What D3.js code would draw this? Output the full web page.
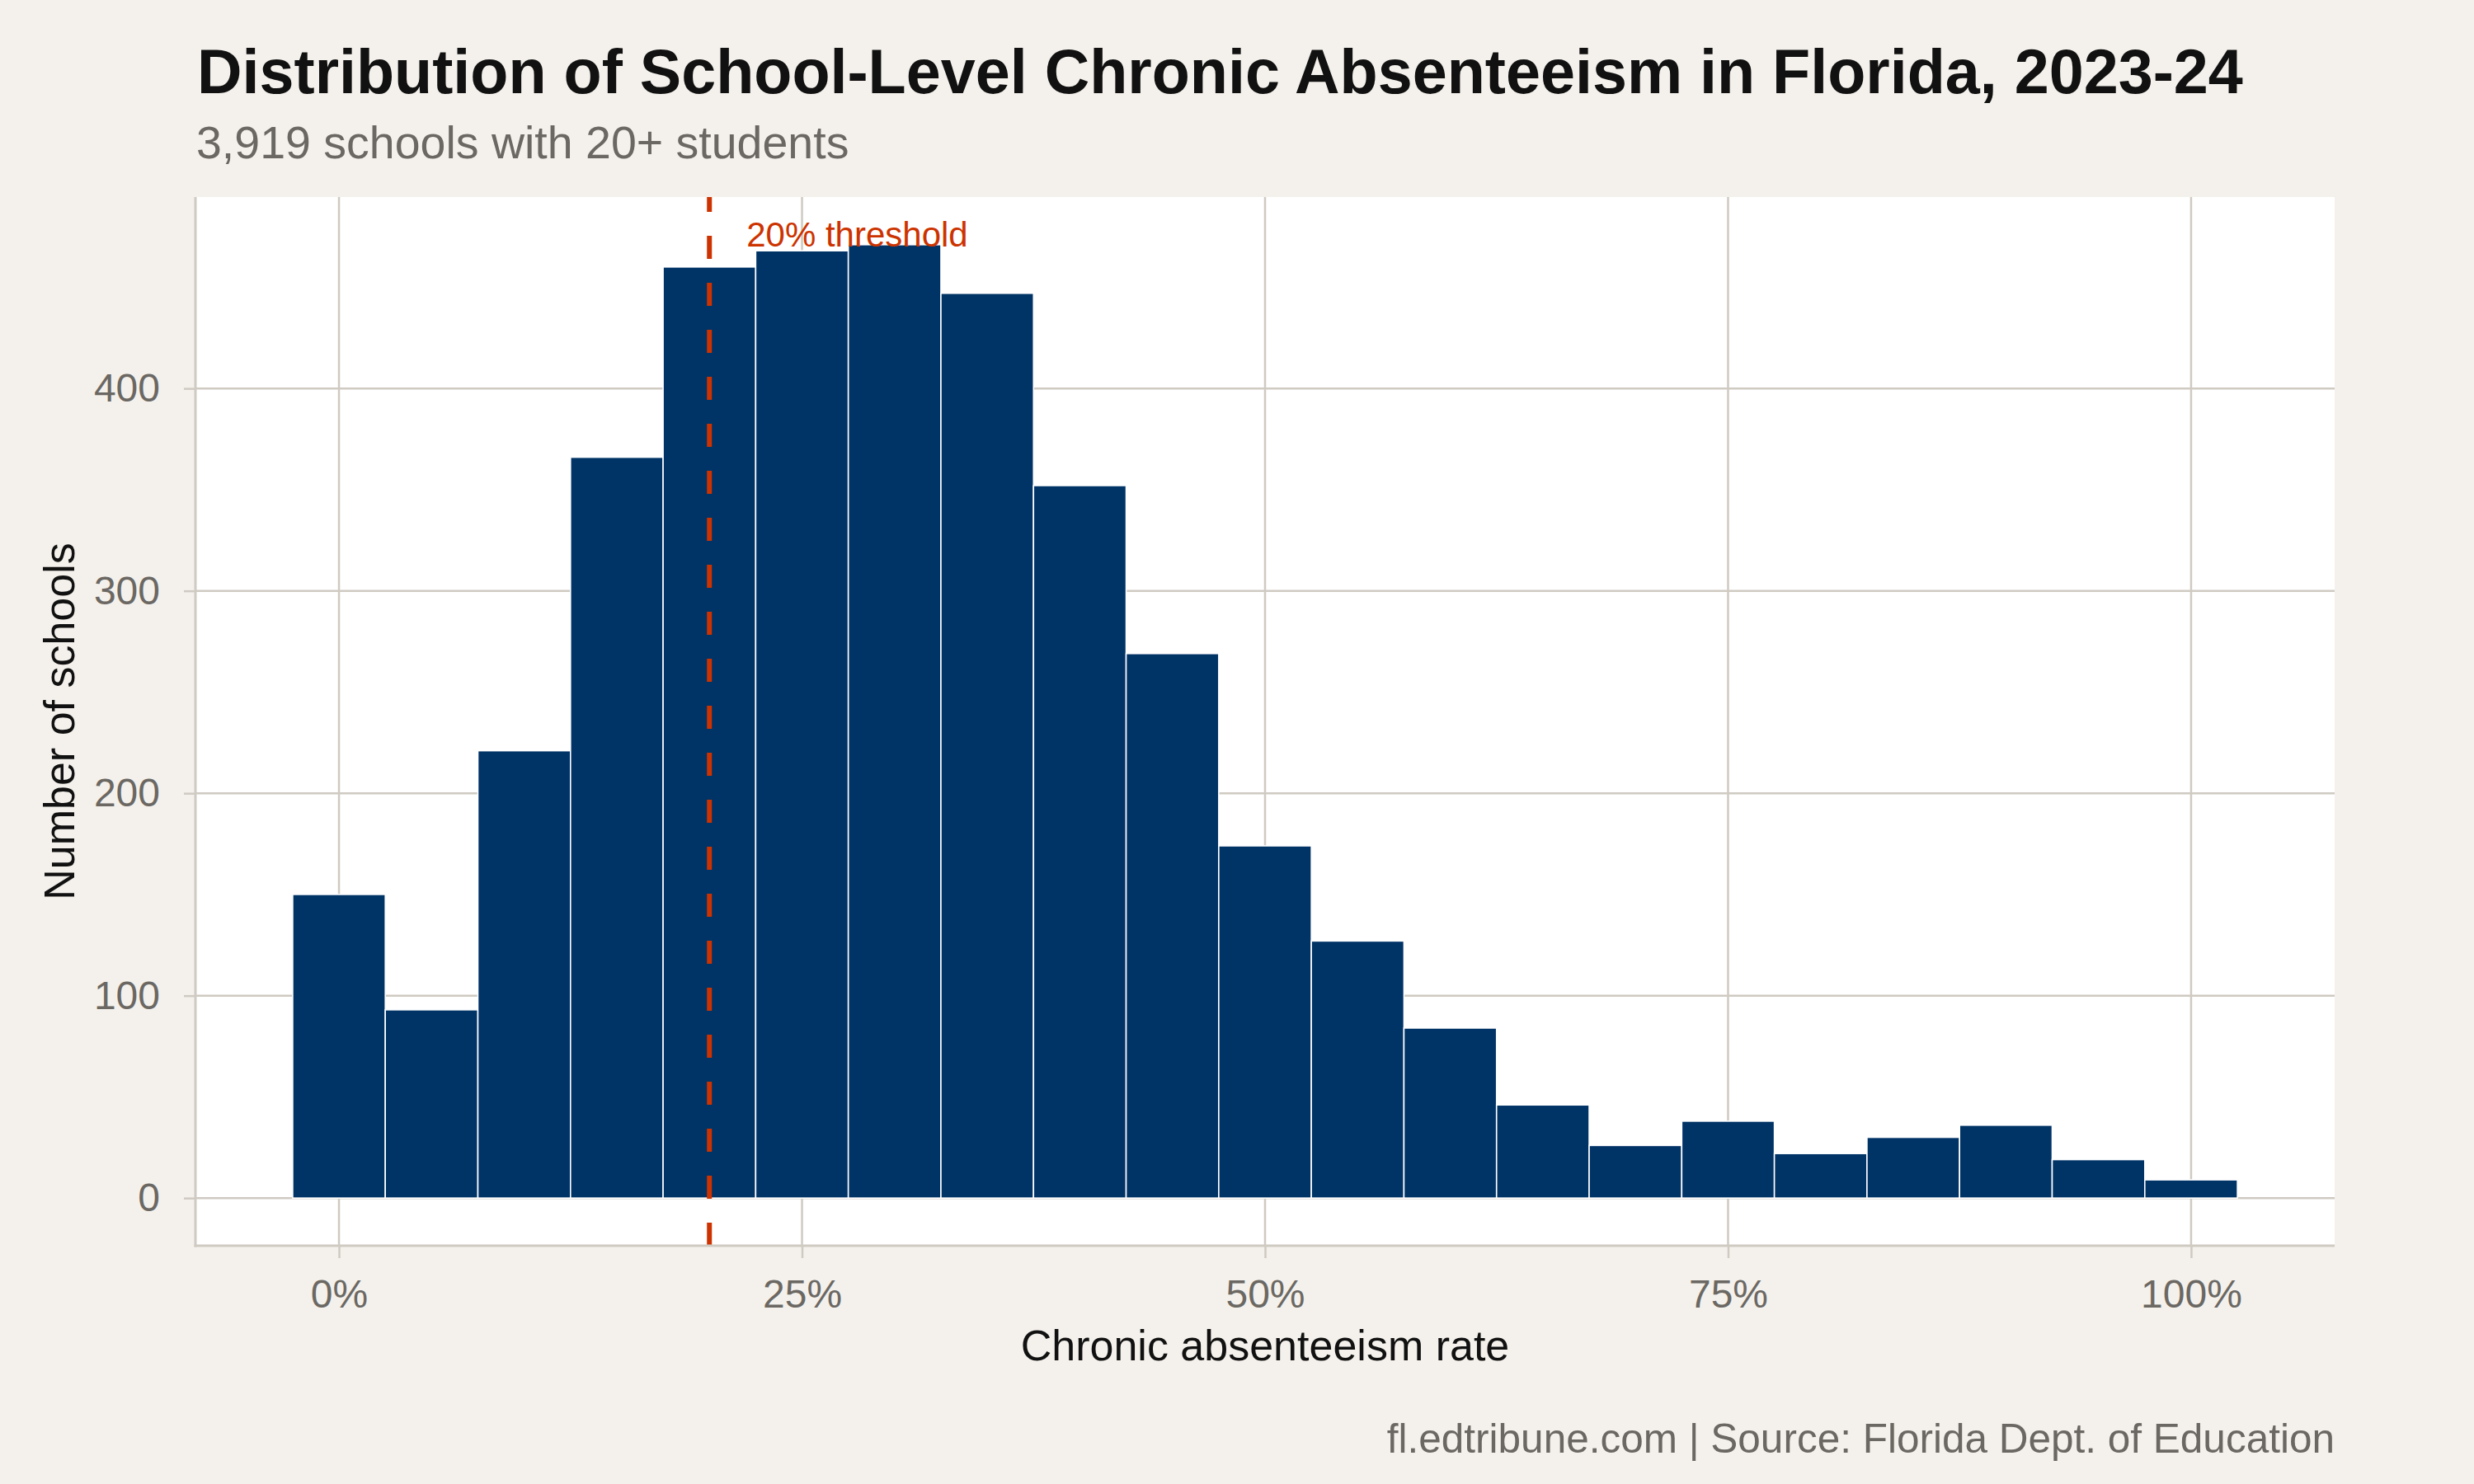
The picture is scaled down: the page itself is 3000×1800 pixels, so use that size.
<!DOCTYPE html>
<html>
<head>
<meta charset="utf-8">
<script src="https://cdn.jsdelivr.net/npm/d3@7"></script>
<style>
  html, body { margin: 0; padding: 0; background: #f4f1ec; }
  svg { display: block; }
  text { font-family: "Liberation Sans", Arial, Helvetica, sans-serif; }
</style>
</head>
<body>
<svg id="chart" width="3000" height="1800"></svg>
<script>
// ---- Data ----
const binCenters = [0, 5, 10, 15, 20, 25, 30, 35, 40, 45, 50, 55, 60, 65, 70, 75, 80, 85, 90, 95, 100];
const schoolCounts = [150, 93, 221, 366, 460, 468, 471, 447, 352, 269, 174, 127, 84, 46, 26, 38, 22, 30, 36, 19, 9];
const binWidth = 5;
const xTickValues = [0, 25, 50, 75, 100];
const yTickValues = [0, 100, 200, 300, 400];
const thresholdValue = 20;

const titleText = "Distribution of School-Level Chronic Absenteeism in Florida, 2023-24";
const subtitleText = "3,919 schools with 20+ students";
const xTitle = "Chronic absenteeism rate";
const yTitle = "Number of schools";
const captionText = "fl.edtribune.com | Source: Florida Dept. of Education";
const thresholdLabel = "20% threshold";

// ---- Layout ----
const panel = { left: 237, right: 2831, top: 239, bottom: 1511 };
const colors = {
  bg: "#f4f1ec", panel: "#ffffff", grid: "#cfcac2", bar: "#003366",
  threshold: "#cc3300", title: "#111111", subtitle: "#6b6863", tick: "#6b6863", axisTitle: "#111111"
};

const svg = d3.select("#chart");
svg.append("rect").attr("width", 3000).attr("height", 1800).attr("fill", colors.bg);

// scales with ggplot-like 5% expansion
const xMin = d3.min(binCenters) - binWidth / 2, xMax = d3.max(binCenters) + binWidth / 2;
const xPad = (xMax - xMin) * 0.05;
const x = d3.scaleLinear().domain([xMin - xPad, xMax + xPad]).range([panel.left, panel.right]);
const yMaxV = d3.max(schoolCounts);
const yPad = yMaxV * 0.05;
const y = d3.scaleLinear().domain([-yPad, yMaxV + yPad]).range([panel.bottom, panel.top]);

// panel
svg.append("rect")
  .attr("x", panel.left).attr("y", panel.top)
  .attr("width", panel.right - panel.left).attr("height", panel.bottom - panel.top)
  .attr("fill", colors.panel);

// gridlines
const grid = svg.append("g");
grid.selectAll("line.gx").data(xTickValues).join("line")
  .attr("x1", d => x(d)).attr("x2", d => x(d))
  .attr("y1", panel.top).attr("y2", panel.bottom)
  .attr("stroke", colors.grid).attr("stroke-width", 2.5);
grid.selectAll("line.gy").data(yTickValues).join("line")
  .attr("x1", panel.left).attr("x2", panel.right)
  .attr("y1", d => y(d)).attr("y2", d => y(d))
  .attr("stroke", colors.grid).attr("stroke-width", 2.5);

// bars
const bars = binCenters.map((c, i) => ({ c, v: schoolCounts[i] }));
svg.append("g").selectAll("rect").data(bars).join("rect")
  .attr("x", d => x(d.c - binWidth / 2))
  .attr("width", d => x(d.c + binWidth / 2) - x(d.c - binWidth / 2))
  .attr("y", d => y(d.v))
  .attr("height", d => y(0) - y(d.v))
  .attr("fill", colors.bar)
  .attr("stroke", "#ffffff").attr("stroke-width", 1.6);

// threshold line
svg.append("line")
  .attr("x1", x(thresholdValue)).attr("x2", x(thresholdValue))
  .attr("y1", panel.bottom).attr("y2", panel.top)
  .attr("stroke", colors.threshold).attr("stroke-width", 6)
  .attr("stroke-dasharray", "28,29");
svg.append("text")
  .attr("x", x(thresholdValue) + 45).attr("y", 299)
  .attr("fill", colors.threshold).attr("font-size", 42)
  .text(thresholdLabel);

// axes
const xAxis = d3.axisBottom(x).tickValues(xTickValues).tickFormat(d => d + "%").tickSize(15).tickPadding(26);
const gx = svg.append("g").attr("transform", `translate(0,${panel.bottom})`).call(xAxis);
const yAxis = d3.axisLeft(y).tickValues(yTickValues).tickFormat(d3.format("d")).tickSize(14).tickPadding(29);
const gy = svg.append("g").attr("transform", `translate(${panel.left},0)`).call(yAxis);
[gx, gy].forEach(g => {
  g.select(".domain").remove();
  g.selectAll(".tick line").attr("stroke", colors.grid).attr("stroke-width", 2.5);
  g.selectAll(".tick text").attr("fill", colors.tick).attr("font-size", 48)
    .attr("font-family", '"Liberation Sans", Arial, Helvetica, sans-serif');
});
gx.selectAll(".tick text").attr("dy", "0.71em");
// axis lines (left & bottom)
svg.append("line").attr("x1", panel.left).attr("x2", panel.left)
  .attr("y1", panel.top).attr("y2", panel.bottom + 1.5)
  .attr("stroke", colors.grid).attr("stroke-width", 3);
svg.append("line").attr("x1", panel.left - 1.5).attr("x2", panel.right)
  .attr("y1", panel.bottom).attr("y2", panel.bottom)
  .attr("stroke", colors.grid).attr("stroke-width", 3);

// titles
svg.append("text").attr("x", 239).attr("y", 113)
  .attr("font-size", 75.5).attr("font-weight", "bold").attr("fill", colors.title)
  .text(titleText);
svg.append("text").attr("x", 238).attr("y", 192)
  .attr("font-size", 55.5).attr("fill", colors.subtitle)
  .text(subtitleText);
svg.append("text").attr("x", (panel.left + panel.right) / 2).attr("y", 1650)
  .attr("text-anchor", "middle").attr("font-size", 52).attr("fill", colors.axisTitle)
  .text(xTitle);
svg.append("text")
  .attr("transform", `translate(90,${(panel.top + panel.bottom) / 2}) rotate(-90)`)
  .attr("text-anchor", "middle").attr("font-size", 52).attr("fill", colors.axisTitle)
  .text(yTitle);
svg.append("text").attr("x", panel.right).attr("y", 1762)
  .attr("text-anchor", "end").attr("font-size", 49.5).attr("fill", colors.subtitle)
  .text(captionText);
</script>
</body>
</html>
